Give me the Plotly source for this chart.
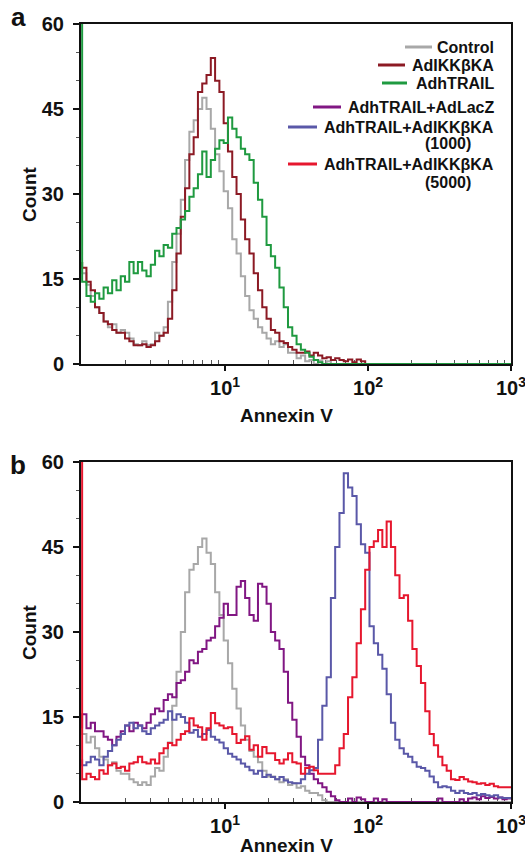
import plotly.graph_objects as go

# ---------------- data ----------------
# channel grid: log10(Annexin V intensity), 0.03-decade channels from 10^0 to 10^3
LOG_STEP = 0.03
log_channels = [round(i * LOG_STEP, 2) for i in range(101)]
annexin = [10 ** v for v in log_channels]

# panel a
control_a = [18, 16, 14, 12, 10, 9, 7.5, 6.5, 7, 5.5,
             6, 5.5, 4.5, 3.5, 3.3, 4, 3.3, 3.5, 5.5, 5,
             6.5, 11, 18, 23, 29, 36, 41, 43, 45, 47,
             45, 41.5, 37, 34, 30.5, 27.5, 22, 19.5, 15.5, 12,
             9.5, 8, 6.5, 5.5, 4.5, 3.5, 4, 3, 3.5, 2,
             2, 1, 1.5, 0.5, 0.7, 0, 0.6, 0, 0.5, 0,
             0, 0, 0, 0, 0, 0, 0, 0, 0, 0,
             0, 0, 0, 0, 0, 0, 0, 0, 0, 0,
             0, 0, 0, 0, 0, 0, 0, 0, 0, 0,
             0, 0, 0, 0, 0, 0, 0, 0, 0, 0, 0]
ikk_a = [18, 17, 14.5, 13, 10, 9, 7.5, 7, 6, 5.5,
         5.5, 4.5, 4, 3.3, 3.3, 3.5, 3, 3.3, 4, 5,
         5.5, 8, 13, 19.5, 26, 31, 37, 40, 48, 49.5,
         51, 54, 50, 48, 42.5, 37.5, 33, 30, 25.5, 22,
         19.5, 16, 13, 10, 8, 6, 5.5, 4, 3.7, 3,
         2.5, 2, 2, 2.2, 1.5, 2, 1.5, 1, 1.2, 0.7,
         1, 0.7, 0.5, 0.8, 0.3, 0.8, 0.5, 0, 0, 0,
         0, 0, 0, 0, 0, 0, 0, 0, 0, 0,
         0, 0, 0, 0, 0, 0, 0, 0, 0, 0,
         0, 0, 0, 0, 0, 0, 0, 0, 0, 0, 0]
trail_a = [80, 14.5, 12, 11, 12.5, 11.5, 13.5, 12.5, 14.8, 13,
           15.5, 14.5, 18, 16, 18, 16.5, 15.5, 17.5, 20, 19,
           21, 20.5, 23, 24, 25.5, 27, 29.5, 31, 33.5, 37.5,
           33, 36, 38, 39.5, 39, 43.5, 41.5, 40, 38, 37,
           36, 32, 29, 26, 21, 19, 17, 13.5, 10, 6.5,
           5, 3.5, 2.5, 2, 1.3, 0.7, 0.3, 0, 0, 0,
           0, 0, 0, 0, 0, 0, 0, 0, 0, 0,
           0, 0, 0, 0, 0, 0, 0, 0, 0, 0,
           0, 0, 0, 0, 0, 0, 0, 0, 0, 0,
           0, 0, 0, 0, 0, 0, 0, 0, 0, 0, 0]

# panel b
control_b = [13, 12, 10.5, 11.5, 9.5, 8, 7.5, 6.5, 7, 5.5,
             5, 5, 4, 3.5, 3, 3.5, 3, 4.5, 6, 5.5,
             8, 10.5, 17, 23, 30, 37, 41, 42, 45, 46.5,
             44, 42, 37, 33, 28.5, 24.5, 20, 16.5, 13.5, 11,
             9, 8, 7, 5.5, 4.5, 4.5, 4, 3.5, 4, 3,
             3.3, 2.5, 2.8, 2, 1.6, 1.6, 1.2, 0.3, 0, 0,
             0, 0, 0, 0, 0, 0, 0, 0, 0, 0,
             0, 0, 0, 0, 0, 0, 0, 0, 0, 0,
             0, 0, 0, 0, 0, 0, 0, 0, 0, 0,
             0, 0, 0, 0, 0, 0, 0, 0, 0, 0, 0]
lacz_b = [13, 15.5, 13, 14, 12.5, 12.5, 11.5, 11, 10, 11.5,
          12.5, 13.5, 12.5, 14, 13.5, 13, 14, 15.5, 16.5, 16,
          18, 19, 18.5, 21, 21.5, 23, 25, 24.5, 26.5, 27,
          28.5, 29, 31, 32.5, 35, 33, 33, 38, 39, 36,
          33, 32, 38.5, 38, 35, 30, 28.5, 27, 23, 17.5,
          14.5, 11.5, 8, 6.5, 5, 4, 3.3, 2.6, 1.8, 1,
          0.3, 0, 0, 0.6, 0, 0.8, 0.5, 0, 0, 0.6,
          0, 0.5, 0, 0, 0, 0, 0, 0, 0, 0,
          0, 0, 0, 0, 0.6, 0, 0, 0, 0, 0.5,
          0, 0.6, 0.8, 0.5, 1, 0.7, 0.9, 0.6, 0.8, 0.5, 0.6]
ikk1000_b = [7.5, 6.5, 7, 8, 7.5, 6.5, 8, 9, 10, 11,
             12, 13.5, 14, 13, 13.5, 12.5, 12, 13, 13.5, 14,
             14.5, 16, 14.5, 15.5, 15, 14, 12.2, 12.7, 11.5, 12,
             12.7, 11.5, 11, 10.5, 9.5, 8.5, 8, 7.5, 6.8, 6.2,
             5.6, 5, 5.5, 4.4, 4.8, 4.4, 4, 4.4, 3.8, 3.5,
             3.3, 3.3, 4, 5, 5.6, 6, 11, 17, 22, 36,
             45, 51, 58, 55.5, 54, 49, 45.5, 44, 31, 28,
             26, 23.5, 19, 14, 11, 9.5, 8.5, 8, 7, 6.2,
             6, 5.5, 4.5, 3.5, 2.6, 2.8, 2.6, 2, 1.6, 2,
             1.6, 1.4, 1.6, 1.2, 1.4, 1.2, 1, 1.2, 0.8, 0.7, 0.7]
ikk5000_b = [80, 4, 5, 4.4, 4, 5.6, 5, 6.5, 6.8, 6,
             6.2, 5.5, 6.8, 7, 8, 7, 6.8, 7.5, 6.8, 8.6,
             9.5, 10.4, 10, 11, 12, 12.5, 14.8, 13.5, 13.2, 11,
             13, 15.7, 13.9, 13.5, 13, 13.2, 12, 10.4, 11, 11.6,
             9.2, 10, 8, 9.7, 8.6, 8.6, 7.4, 6.8, 7.5, 8.6,
             7, 6.8, 5, 6, 6.2, 5.6, 5, 5, 5, 5,
             6.5, 9.5, 12, 18.5, 22, 28, 34, 41, 45, 46,
             48, 45, 49.5, 45, 40, 36, 36.5, 32, 27, 24,
             21, 16, 12, 10, 8, 6.5, 5.5, 4, 3.9, 4.4,
             4, 3.6, 3.5, 3.2, 3.3, 3, 3.2, 2.8, 2.6, 2.6, 2.6]

y_ticks = [0, 15, 30, 45, 60]
x_ticks = [10, 100, 1000]
x_ticktext = ["<b>10<sup>1</sup></b>", "<b>10<sup>2</sup></b>", "<b>10<sup>3</sup></b>"]
x_minor = [2, 3, 4, 5, 6, 7, 8, 9, 20, 30, 40, 50, 60, 70, 80, 90,
           200, 300, 400, 500, 600, 700, 800, 900]

legend_labels = ["Control", "AdIKK\u03b2KA", "AdhTRAIL", "AdhTRAIL+AdLacZ",
                 "AdhTRAIL+AdIKK\u03b2KA", "AdhTRAIL+AdIKK\u03b2KA"]
legend_sub = ["", "", "", "", "(1000)", "(5000)"]

# ---------------- styling ----------------
C_GRAY = "#a8a8a8"
C_DRED = "#8c1a24"
C_GREEN = "#1f9a40"
C_PURPLE = "#811783"
C_BLUE = "#5a58a8"
C_RED = "#e6172e"
legend_colors = [C_GRAY, C_DRED, C_GREEN, C_PURPLE, C_BLUE, C_RED]

FONT = "Liberation Sans, Arial, Helvetica, sans-serif"
W, H = 525, 863
# plot box in page pixels: x 81..511, panel a y 24..364, panel b y 462..802
ML, MT = 81, 24
MR = W - 511
MB = H - 802
PW, PH = W - ML - MR, H - MT - MB


def px(page_x):
    return (page_x - ML) / PW


def py(page_y):
    return (H - MB - page_y) / PH


dom_a = [py(364), 1.0]
dom_b = [0.0, py(462)]

fig = go.Figure()

series = [
    (control_a, C_GRAY, "x", "y"),
    (ikk_a, C_DRED, "x", "y"),
    (trail_a, C_GREEN, "x", "y"),
    (control_b, C_GRAY, "x2", "y2"),
    (lacz_b, C_PURPLE, "x2", "y2"),
    (ikk1000_b, C_BLUE, "x2", "y2"),
    (ikk5000_b, C_RED, "x2", "y2"),
]
for vals, col, xa, ya in series:
    fig.add_trace(go.Scatter(x=annexin, y=vals, mode="lines",
                             line=dict(color=col, width=2, shape="vh"),
                             xaxis=xa, yaxis=ya, showlegend=False,
                             hoverinfo="skip"))

xax = dict(type="log", range=[-0.008, 3.0], showline=True, linecolor="#111",
           linewidth=2, mirror=True, ticks="outside", ticklen=5, tickwidth=1.5,
           tickcolor="#111", tickvals=x_ticks, ticktext=x_ticktext, showgrid=False,
           zeroline=False, tickfont=dict(family=FONT, size=20, color="#111"),
           minor=dict(ticks="inside", ticklen=4, tickwidth=1, tickcolor="#555",
                      tickvals=x_minor, showgrid=False),
           layer="below traces", automargin=False, ticklabeloverflow="allow")
yax = dict(range=[0, 60], showline=True, linecolor="#111", linewidth=2, mirror=True,
           ticks="outside", ticklen=6, tickwidth=1.5, tickcolor="#111",
           tickvals=y_ticks, showgrid=False, zeroline=False,
           tickfont=dict(family=FONT, size=20, color="#111", weight="bold"),
           minor=dict(ticks="outside", ticklen=3, tickwidth=1, tickcolor="#555",
                      dtick=5, showgrid=False),
           layer="below traces", ticklabelstandoff=5, automargin=False,
           ticklabeloverflow="allow")

fig.update_layout(
    width=W, height=H, margin=dict(l=ML, r=MR, t=MT, b=MB),
    paper_bgcolor="white", plot_bgcolor="white",
    xaxis=dict(xax, domain=[0, 1], anchor="y"),
    yaxis=dict(yax, domain=dom_a, anchor="x"),
    xaxis2=dict(xax, domain=[0, 1], anchor="y2"),
    yaxis2=dict(yax, domain=dom_b, anchor="x2"),
    showlegend=False,
)

shapes = []
annotations = []
bold = dict(family=FONT, color="#111", weight="bold")
ctr = dict(xref="paper", yref="paper", xanchor="center", yanchor="middle",
           showarrow=False)
# panel letters
annotations.append(dict(ctr, text="a", x=px(18), y=py(17), font=dict(bold, size=26)))
annotations.append(dict(ctr, text="b", x=px(18), y=py(465), font=dict(bold, size=26)))
# axis titles
for cy in [194, 632]:
    annotations.append(dict(ctr, text="Count", x=px(29), y=py(cy), textangle=-90,
                            font=dict(bold, size=19)))
for cy in [415, 846]:
    annotations.append(dict(ctr, text="Annexin V", x=px(286), y=py(cy),
                            font=dict(bold, size=19)))

# legend (panel a)
leg_y = [47, 65, 83, 107, 127, 164]
leg_line = [(405, 432), (378, 405), (382, 407), (313, 341), (288, 317), (288, 317)]
sub_y = [None, None, None, None, 144, 182]
for lab, sub, col, yy, (l0, l1), sy in zip(legend_labels, legend_sub, legend_colors,
                                          leg_y, leg_line, sub_y):
    annotations.append(dict(ctr, text=lab, x=px(496), y=py(yy), xanchor="right",
                            font=dict(bold, size=16)))
    shapes.append(dict(type="line", xref="paper", yref="paper", x0=px(l0), x1=px(l1),
                       y0=py(yy), y1=py(yy), line=dict(color=col, width=3)))
    if sub:
        annotations.append(dict(ctr, text=sub, x=px(448), y=py(sy),
                                font=dict(bold, size=16)))

fig.update_layout(shapes=shapes, annotations=annotations)
# remove the browser's default 8px page margin so the figure fills the window
fig.write_html("out.html", config={"displayModeBar": False},
               post_script="document.body.style.margin='0px';")
